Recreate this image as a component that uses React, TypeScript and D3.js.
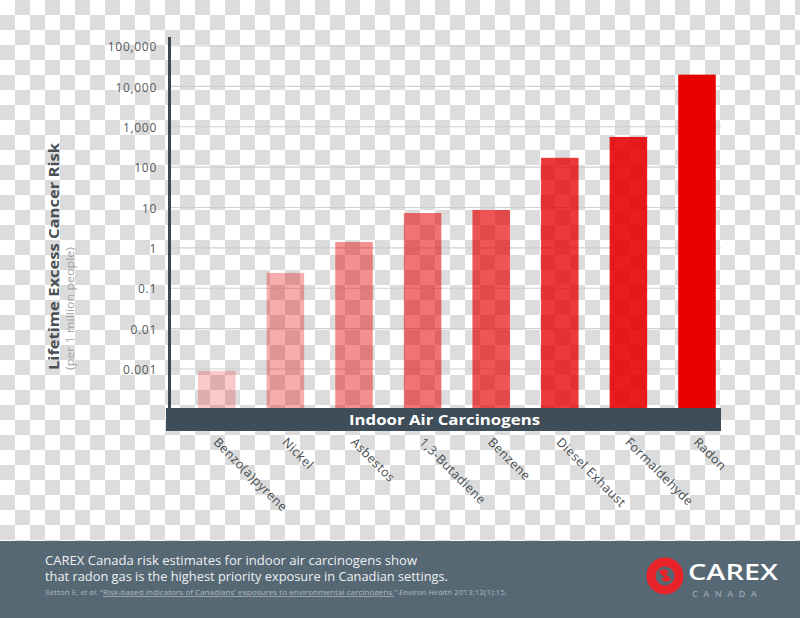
import React from "react";
import * as d3 from "d3";

const categories = [
  "Benzo(a)pyrene",
  "Nickel",
  "Asbestos",
  "1,3-Butadiene",
  "Benzene",
  "Diesel Exhaust",
  "Formaldehyde",
  "Radon",
];
const riskValues = [0.0009, 0.24, 1.4, 7.3, 8.7, 170, 560, 19500];
const tickValues = [100000, 10000, 1000, 100, 10, 1, 0.1, 0.01, 0.001];
const tickLabels = ["100,000", "10,000", "1,000", "100", "10", "1", "0.1", "0.01", "0.001"];

const W = 800;
const H = 618;
const BAND_TOP = 408;
const BAND_BOTTOM = 431;
const FOOTER_TOP = 541;
const FONT = "'Open Sans', 'DejaVu Sans', sans-serif";

export default function App() {
  const x = d3
    .scaleBand<string>()
    .domain(categories)
    .range([182.5, 731.3])
    .paddingInner(0.453)
    .paddingOuter(0.2265);
  const y = d3.scaleLog().domain([1e-4, 1e5]).range([409.4, 46]);
  const opacity = d3.scaleLinear().domain([0, categories.length - 1]).range([0.21, 1]);

  return (
    <>
      <style>{"body{margin:0}"}</style>
      <svg width={W} height={H} style={{ display: "block" }} fontFamily={FONT}>
        <defs>
          <pattern id="checker" x={0} y={0} width={30} height={30} patternUnits="userSpaceOnUse">
            <rect x={0} y={0} width={30} height={30} fill="#ffffff" />
            <rect x={15} y={0} width={15} height={15} fill="#dcdcdc" />
            <rect x={0} y={15} width={15} height={15} fill="#dcdcdc" />
          </pattern>
        </defs>
        <rect x={0} y={0} width={W} height={H} fill="url(#checker)" />

        {/* gridlines */}
        {tickValues.map((t) => (
          <line
            key={"g" + t}
            x1={171}
            x2={721}
            y1={y(t)}
            y2={y(t)}
            stroke="#cfcfcf"
            strokeWidth={1.2}
          />
        ))}

        {/* bars */}
        {categories.map((c, i) => (
          <rect
            key={c}
            x={x(c)}
            width={x.bandwidth()}
            y={y(riskValues[i])}
            height={BAND_TOP - y(riskValues[i])}
            fill="#e60000"
            fillOpacity={opacity(i)}
          />
        ))}

        {/* y axis line */}
        <line x1={169.5} x2={169.5} y1={37} y2={BAND_TOP} stroke="#3b4852" strokeWidth={3} />

        {/* tick labels */}
        {tickValues.map((t, i) => (
          <text
            key={"t" + t}
            x={157}
            y={y(t) + 1}
            dy="0.35em"
            textAnchor="end"
            fontSize={12}
            letterSpacing={0.7}
            fill="#555a5e"
          >
            {tickLabels[i]}
          </text>
        ))}

        {/* axis titles */}
        <text
          transform="translate(59,370) rotate(-90)"
          fontSize={15}
          fontWeight={700}
          fill="#4a4f53"
          textLength={227}
          lengthAdjust="spacingAndGlyphs"
        >
          Lifetime Excess Cancer Risk
        </text>
        <text
          transform="translate(74,370) rotate(-90)"
          fontSize={11}
          fill="#a3a3a3"
          textLength={123}
          lengthAdjust="spacingAndGlyphs"
        >
          (per 1 million people)
        </text>

        {/* category band */}
        <rect x={166} y={BAND_TOP} width={555} height={BAND_BOTTOM - BAND_TOP} fill="#3e4d57" />
        <text
          x={444.5}
          y={424.5}
          textAnchor="middle"
          fontSize={15}
          fontWeight={700}
          fill="#ffffff"
          textLength={191}
          lengthAdjust="spacingAndGlyphs"
        >
          Indoor Air Carcinogens
        </text>

        {/* category labels */}
        {categories.map((c) => {
          const cx = (x(c) ?? 0) + x.bandwidth() / 2;
          return (
            <text
              key={"l" + c}
              transform={`translate(${cx - 4},${443}) rotate(45)`}
              fontSize={12.5}
              fill="#464b4f"
              letterSpacing={0.5}
            >
              {c}
            </text>
          );
        })}

        {/* footer */}
        <rect x={0} y={FOOTER_TOP} width={W} height={H - FOOTER_TOP} fill="#566874" />
        <text x={45} y={565} fontSize={12.5} fill="#eef0f2" textLength={372} lengthAdjust="spacingAndGlyphs">
          CAREX Canada risk estimates for indoor air carcinogens show
        </text>
        <text x={45} y={580.5} fontSize={12.5} fill="#eef0f2" textLength={403} lengthAdjust="spacingAndGlyphs">
          that radon gas is the highest priority exposure in Canadian settings.
        </text>
        <text x={45} y={595} fontSize={7.5} fill="#aeb8c0" textLength={462} lengthAdjust="spacingAndGlyphs">
          <tspan>Setton E, </tspan>
          <tspan fontStyle="italic">et al.</tspan>
          <tspan> “</tspan>
          <tspan textDecoration="underline">Risk-based indicators of Canadians’ exposures to environmental carcinogens.</tspan>
          <tspan>” </tspan>
          <tspan fontStyle="italic">Environ Health</tspan>
          <tspan> 2013;12(1):15.</tspan>
        </text>

        {/* logo */}
        <circle cx={665} cy={576} r={14} fill="none" stroke="#e8232a" strokeWidth={9} />
        <path d="M659,571 q6,-4 10,1 q-4,1 -3,5 q-5,-1 -7,-6 Z" fill="#e8232a" />
        <path d="M671,580 q-6,4 -10,-1 q4,-1 3,-5 q5,1 7,6 Z" fill="#e8232a" />
        <text x={688} y={580} fontSize={22} fill="#ffffff" fontWeight={600} textLength={90} lengthAdjust="spacingAndGlyphs">
          CAREX
        </text>
        <text x={692} y={597} fontSize={9} fill="#9aa6ae" letterSpacing={5.5} fontWeight={600}>
          CANADA
        </text>
      </svg>
    </>
  );
}
